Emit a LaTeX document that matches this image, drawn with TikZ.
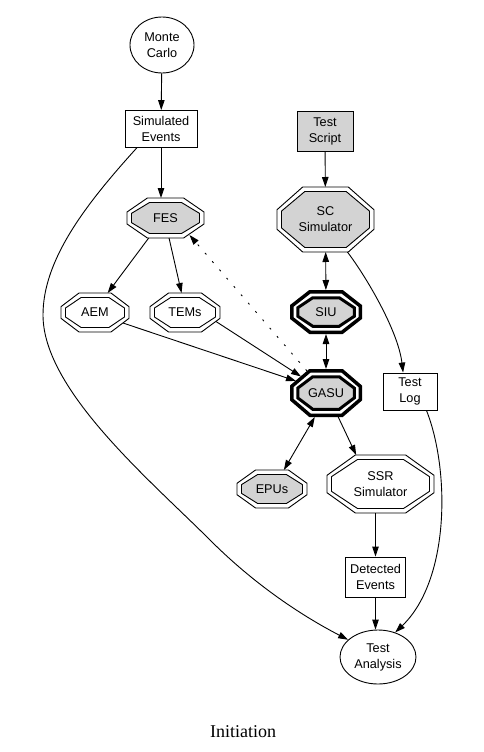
\documentclass[tikz,border=0pt]{standalone}
\usepackage{fontspec}
\setmainfont{Liberation Sans}
\newfontfamily\capfont{Liberation Serif}
\usetikzlibrary{arrows.meta,calc,shapes.geometric}
\definecolor{gfill}{RGB}{211,211,211}
\pgfdeclarelayer{bg}
\pgfsetlayers{bg,main}
\newcommand{\octp}[4]{%
  \path[#4] ($(#1)+({#2},{0.3*(#3)})$) -- ($(#1)+({0.47*(#2)},{#3})$) -- ($(#1)+({-0.47*(#2)},{#3})$) -- ($(#1)+({-(#2)},{0.3*(#3)})$) -- ($(#1)+({-(#2)},{-0.3*(#3)})$) -- ($(#1)+({-0.47*(#2)},{-(#3)})$) -- ($(#1)+({0.47*(#2)},{-(#3)})$) -- ($(#1)+({#2},{-0.3*(#3)})$) -- cycle;}
\newcommand{\dbloct}[4]{\octp{#1}{#2}{#3}{draw,line width=0.9pt,fill=white}\octp{#1}{#2-4.5}{#3-4.5}{draw,line width=0.9pt,fill=#4}}
\newcommand{\bldoct}[3]{\octp{#1}{#2-1.75}{#3-1.75}{draw,line width=3.5pt,fill=white}\octp{#1}{#2-7.75}{#3-7.75}{draw,line width=3pt,fill=gfill}}
\tikzset{
  lbl/.style={font=\fontsize{12.7}{16}\selectfont, align=center, inner sep=0pt},
  rbox/.style={lbl, draw, line width=0.9pt, rectangle},
  ell/.style={lbl, draw, line width=0.9pt, ellipse},
  octn/.style 2 args={lbl, rectangle, minimum width=#1, minimum height=#2, outer sep=0pt},
  arr/.style={line width=0.9pt, -{Triangle[length=10pt,width=6.5pt]}},
  darr/.style={line width=0.9pt, {Triangle[length=10pt,width=6.5pt]}-{Triangle[length=10pt,width=6.5pt]}},
  dotarr/.style={line width=0.9pt, dash pattern=on 2pt off 9pt, -{Triangle[length=10pt,width=6.5pt]}}
}
\begin{document}
\begin{tikzpicture}[x=1pt,y=-1pt]
\useasboundingbox (0,0) rectangle (484,752);
\node[ell, minimum width=64pt, minimum height=56pt] (MC) at (162,45) {Monte\\Carlo};
\node[rbox, minimum width=72pt, minimum height=37pt] (SE) at (161,129) {Simulated\\Events};
\node[rbox, fill=gfill, minimum width=56pt, minimum height=40pt] (TS) at (325,131) {Test\\Script};
\node[octn={97pt}{65pt}] (SC) at (325.5,219.5) {SC\\Simulator};
\node[octn={77pt}{40pt}] (FES) at (165.5,218) {FES};
\node[octn={68pt}{39pt}] (AEM) at (95,312.5) {AEM};
\node[octn={70pt}{39pt}] (TEMs) at (185,312.5) {TEMs};
\node[octn={72pt}{44pt}] (SIU) at (326,312) {SIU};
\node[octn={72pt}{48pt}] (GASU) at (326,393) {GASU};
\node[rbox, minimum width=54pt, minimum height=37pt] (TL) at (410,391.5) {Test\\Log};
\node[octn={70pt}{38pt}] (EPUs) at (272,489) {EPUs};
\node[octn={107pt}{58pt}] (SSR) at (380.5,484) {SSR\\Simulator};
\node[rbox, minimum width=60pt, minimum height=40pt] (DE) at (375.5,577) {Detected\\Events};
\node[ell, minimum width=76pt, minimum height=54pt] (TA) at (378,657) {Test\\Analysis};
\node[font=\capfont\fontsize{18}{20}\selectfont, anchor=base, inner sep=0pt] (cap) at (243,737) {Initiation};
\begin{pgfonlayer}{bg}
\fill[white] (0,0) rectangle (484,752);
\dbloct{SC}{48.5}{32.5}{gfill}
\dbloct{FES}{38.5}{20}{gfill}
\dbloct{AEM}{34}{19.5}{white}
\dbloct{TEMs}{35}{19.5}{white}
\dbloct{EPUs}{35}{19}{gfill}
\dbloct{SSR}{53.5}{29}{white}
\bldoct{SIU}{36}{22}
\bldoct{GASU}{36}{24}
\end{pgfonlayer}
\draw[arr] (MC) -- (SE);
\draw[arr] (SE.south) -- (SE.south |- FES.north);
\draw[arr] (SE.-142) .. controls (85,205) and (43,260) .. (43,315) .. controls (43,390) and (150,480) .. (210,540) .. controls (260,590) and (310,620) .. (TA.150);
\draw[arr] (FES.-130) -- (AEM.57);
\draw[arr] (FES.-80) -- (TEMs.100);
\draw[arr] ($(AEM)+(28,10.5)$) -- ($(GASU)+(-30,-12)$);
\draw[arr] ($(TEMs)+(31,9)$) -- ($(GASU)+(-25,-16.5)$);
\draw[dotarr] ($(GASU)+(-19,-22)$) -- ($(FES)+(24,17)$);
\draw[arr] (TS) -- (SC);
\draw[darr] (SC) -- (SIU);
\draw[darr] (SIU) -- (GASU);
\draw[arr] (SC.-56) .. controls (365,275) and (398,330) .. (TL.110);
\draw[arr] (TL.-49) .. controls (450,470) and (450,580) .. (TA.55);
\draw[darr] (GASU.-115) -- (EPUs.58);
\draw[arr] (GASU.-63) -- (SSR.130);
\draw[arr] (DE.north |- SSR.south) -- (DE.north);
\draw[arr] (DE) -- (DE.south |- TA.north);
\end{tikzpicture}
\end{document}
